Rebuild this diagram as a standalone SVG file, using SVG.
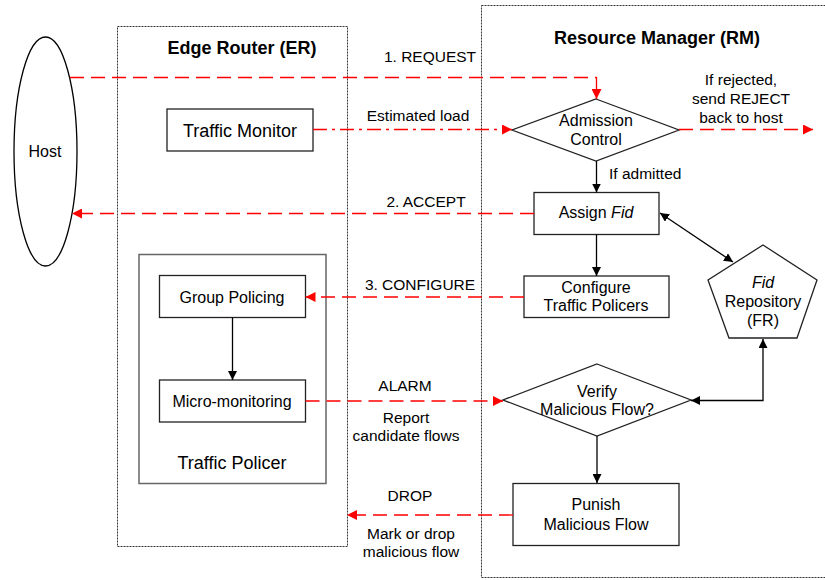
<svg xmlns="http://www.w3.org/2000/svg" width="825" height="580" viewBox="0 0 825 580">
  <style>
    text { font-family: "Liberation Sans", Arial, sans-serif; fill: #000; }
    .t16 { font-size: 16px; text-anchor: middle; }
    .t18 { font-size: 18px; text-anchor: middle; }
    .title { font-size: 18px; font-weight: bold; text-anchor: middle; }
    .lbl { font-size: 15.5px; text-anchor: middle; }
    .zone { fill: none; stroke: #333; stroke-width: 1; stroke-dasharray: 2 1; }
    .box { fill: #fff; stroke: #222; stroke-width: 1.3; }
    .flow { fill: none; stroke: #000; stroke-width: 1.3; }
    .msg { fill: none; stroke: #f00; stroke-width: 1.3; stroke-dasharray: 14 7; }
    .load { fill: none; stroke: #f00; stroke-width: 1.3; stroke-dasharray: 14 5 3 5; }
  </style>
  <defs>
    <marker id="redArrow" viewBox="0 0 10 10" refX="10" refY="5" markerWidth="10" markerHeight="10" markerUnits="userSpaceOnUse" orient="auto">
      <path d="M0,0 L10,5 L0,10 z" fill="#f00"/>
    </marker>
    <marker id="blkArrow" viewBox="0 0 10 10" refX="10" refY="5" markerWidth="9" markerHeight="9" markerUnits="userSpaceOnUse" orient="auto-start-reverse">
      <path d="M0,0 L10,5 L0,10 z" fill="#000"/>
    </marker>
  </defs>

  <!-- Zones -->
  <g id="edge-router">
    <rect class="zone" x="117.5" y="26.5" width="230" height="520"/>
    <text class="title" x="242" y="54">Edge Router (ER)</text>
  </g>
  <g id="resource-manager">
    <rect class="zone" x="481.5" y="5.5" width="360" height="572"/>
    <text class="title" x="657" y="44">Resource Manager (RM)</text>
  </g>

  <!-- Nodes -->
  <g id="host">
    <ellipse cx="45.5" cy="151.5" rx="31.5" ry="114.5" fill="#fff" stroke="#000" stroke-width="1.3"/>
    <text class="t16" x="45" y="157">Host</text>
  </g>
  <g id="traffic-monitor">
    <rect class="box" x="167" y="109" width="146" height="42"/>
    <text class="t18" x="240" y="136.5">Traffic Monitor</text>
  </g>
  <g id="traffic-policer">
    <rect x="139" y="254.5" width="187" height="229" fill="#fff" stroke="#666" stroke-width="1.5"/>
    <text class="t18" x="232" y="469">Traffic Policer</text>
  </g>
  <g id="group-policing">
    <rect class="box" x="159.5" y="275.5" width="146" height="42"/>
    <text class="t16" x="232" y="303">Group Policing</text>
  </g>
  <g id="micro-monitoring">
    <rect class="box" x="159.5" y="380" width="146" height="42"/>
    <text class="t16" x="232" y="407">Micro-monitoring</text>
  </g>
  <g id="admission-control">
    <polygon class="box" points="596,99 679,130 596,161 512,130"/>
    <text class="t16" x="596" y="126">Admission</text>
    <text class="t16" x="596" y="145">Control</text>
  </g>
  <g id="assign-fid">
    <rect class="box" x="534" y="192.5" width="125" height="42"/>
    <text class="t16" x="596" y="218">Assign <tspan font-style="italic">Fid</tspan></text>
  </g>
  <g id="configure-policers">
    <rect class="box" x="524" y="276" width="145" height="41.5"/>
    <text class="t16" x="596" y="293">Configure</text>
    <text class="t16" x="596" y="311">Traffic Policers</text>
  </g>
  <g id="fid-repository">
    <polygon class="box" points="763,245 817,280 797,338 729,338 708,280"/>
    <text class="t16" x="763" y="288" font-style="italic">Fid</text>
    <text class="t16" x="763" y="307">Repository</text>
    <text class="t16" x="763" y="326">(FR)</text>
  </g>
  <g id="verify-malicious">
    <polygon class="box" points="597,364 691,400 597,436 503,400"/>
    <text class="t16" x="597" y="397">Verify</text>
    <text class="t16" x="597" y="415">Malicious Flow?</text>
  </g>
  <g id="punish">
    <rect class="box" x="513" y="483.5" width="166" height="62"/>
    <text class="t16" x="596" y="510">Punish</text>
    <text class="t16" x="596" y="530">Malicious Flow</text>
  </g>

  <!-- Connectors -->
  <g id="connectors">
    <!-- messages between ER/host and RM -->
    <path class="msg" d="M70,77.5 H596.5 V99" marker-end="url(#redArrow)"/>
    <path class="load" d="M313,129.5 H512" marker-end="url(#redArrow)"/>
    <path class="msg" d="M679,129.5 H813" marker-end="url(#redArrow)"/>
    <path class="msg" d="M534,213.5 H72" marker-end="url(#redArrow)"/>
    <path class="msg" d="M524,297 H305.5" marker-end="url(#redArrow)"/>
    <path class="msg" d="M305.5,401 H503" marker-end="url(#redArrow)"/>
    <path class="msg" d="M513,515 H347" marker-end="url(#redArrow)"/>

    <!-- internal flow -->
    <path class="flow" d="M596.5,161 V192.5" marker-end="url(#blkArrow)"/>
    <path class="flow" d="M596.5,234.5 V276" marker-end="url(#blkArrow)"/>
    <path class="flow" d="M597,436 V483" marker-end="url(#blkArrow)"/>
    <path class="flow" d="M232.5,317.5 V380" marker-end="url(#blkArrow)"/>
    <path class="flow" d="M660,213 L733,262" marker-start="url(#blkArrow)" marker-end="url(#blkArrow)"/>
    <path class="flow" d="M763,339 V400.5 H691" marker-start="url(#blkArrow)" marker-end="url(#blkArrow)"/>
  </g>

  <!-- Connector labels -->
  <g id="labels">
    <text class="lbl" x="430" y="62">1. REQUEST</text>
    <text class="lbl" x="418" y="121">Estimated load</text>
    <text class="lbl" x="741" y="85">If rejected,</text>
    <text class="lbl" x="741" y="104">send REJECT</text>
    <text class="lbl" x="741" y="123">back to host</text>
    <text class="lbl" x="609" y="179" text-anchor="start" style="text-anchor:start">If admitted</text>
    <text class="lbl" x="426" y="207">2. ACCEPT</text>
    <text class="lbl" x="420" y="290">3. CONFIGURE</text>
    <text class="lbl" x="405" y="391">ALARM</text>
    <text class="lbl" x="406" y="423">Report</text>
    <text class="lbl" x="406" y="441">candidate flows</text>
    <text class="lbl" x="410" y="501">DROP</text>
    <text class="lbl" x="411" y="539">Mark or drop</text>
    <text class="lbl" x="411" y="557">malicious flow</text>
  </g>
</svg>
